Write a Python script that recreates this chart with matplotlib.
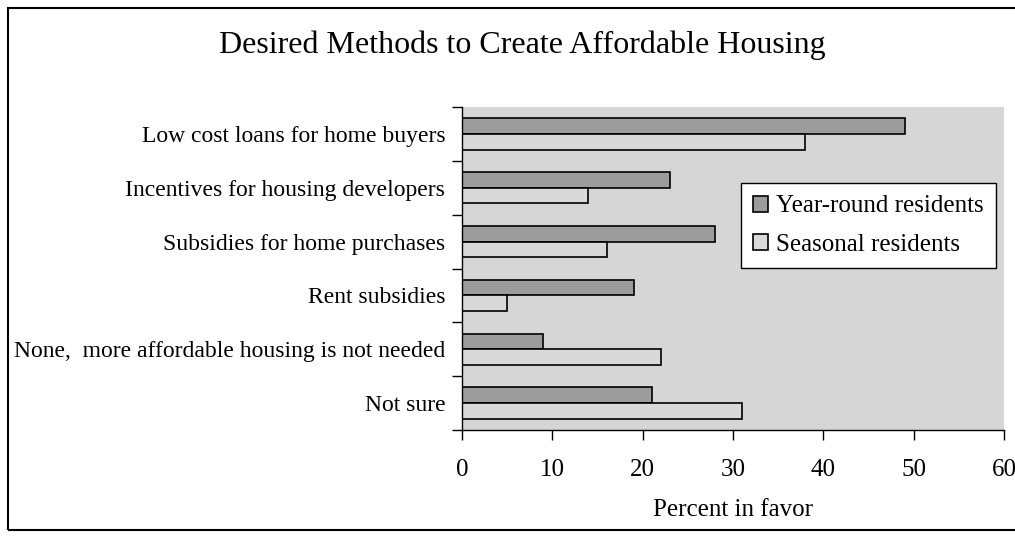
import matplotlib.pyplot as plt
import numpy as np
from matplotlib.patches import Rectangle

categories = [
    "Low cost loans for home buyers",
    "Incentives for housing developers",
    "Subsidies for home purchases",
    "Rent subsidies",
    "None,  more affordable housing is not needed",
    "Not sure",
]
year_round = [49, 23, 28, 19, 9, 21]
seasonal = [38, 14, 16, 5, 22, 31]
x_ticks = [0, 10, 20, 30, 40, 50, 60]

plt.rcParams['font.family'] = ['Liberation Serif', 'DejaVu Serif']

fig = plt.figure(figsize=(10.15, 5.37), dpi=100)
ax = fig.add_axes([462 / 1015, 107 / 537, 542 / 1015, 323 / 537])
ax.set_facecolor('#d6d6d6')

y = np.arange(len(categories)) + 0.5
h = 0.29
ax.barh(y - h / 2, year_round, height=h, color='#9c9c9c', edgecolor='black',
        linewidth=1.2, label='Year-round residents')
ax.barh(y + h / 2, seasonal, height=h, color='#d9d9d9', edgecolor='black',
        linewidth=1.2, label='Seasonal residents')

ax.set_xlim(0, 60)
ax.set_ylim(len(categories), 0)
ax.set_xticks(x_ticks)
ax.tick_params(axis='x', direction='out', length=7, width=1, pad=14, labelsize=18)

# category boundaries as ticks, labels at centres
ax.set_yticks(np.arange(len(categories) + 1))
ax.set_yticklabels([])
ax.tick_params(axis='y', which='major', direction='out', length=7, width=1)
ax.set_yticks(y, minor=True)
ax.set_yticklabels(categories, minor=True, fontsize=17)
ax.tick_params(axis='y', which='minor', length=0, pad=12)

for s in ['top', 'right']:
    ax.spines[s].set_visible(False)
ax.spines['left'].set_linewidth(1)
ax.spines['bottom'].set_linewidth(1)

ax.set_xlabel('Percent in favor', fontsize=18, labelpad=13)

leg = ax.legend(loc='upper right', bbox_to_anchor=(0.985, 0.765), borderaxespad=0,
                fontsize=18, frameon=True, fancybox=False, handlelength=0.6,
                handleheight=0.6, handletextpad=0.3, labelspacing=0.65,
                borderpad=0.5)
leg.get_frame().set_edgecolor('black')
leg.get_frame().set_linewidth(1)
leg.get_frame().set_facecolor('white')
leg.get_frame().set_alpha(1)

fig.text(522 / 1015, 1 - 45 / 537, 'Desired Methods to Create Affordable Housing',
         ha='center', va='center', fontsize=23)

fig.patches.append(Rectangle((8 / 1015, 7 / 537), 1.2, 1 - 15 / 537,
                             transform=fig.transFigure, fill=False,
                             edgecolor='black', linewidth=1.5))

fig.savefig('out.png', dpi=100)
